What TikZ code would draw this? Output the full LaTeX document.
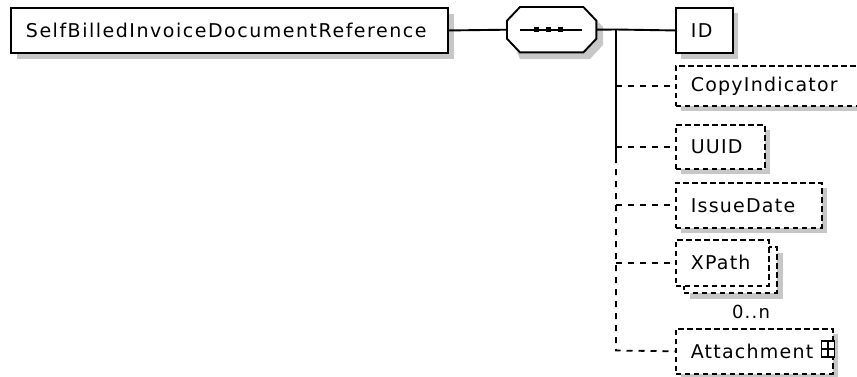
\documentclass[tikz,border=0pt]{standalone}
\usepackage{fontspec}
\setmainfont{DejaVu Sans}[LetterSpace=6.5]
\newfontfamily\mainlabelfont{DejaVu Sans}[LetterSpace=8]
\begin{document}
\begin{tikzpicture}[x=1pt,y=-1pt,
  shadowc/.style={fill=black!22,draw=none},
  elem/.style={draw=black,line width=1.9pt,fill=white,anchor=north west,inner xsep=15pt,inner ysep=0pt,align=left,font=\fontsize{19}{22}\selectfont},
  optelem/.style={elem,line width=1.6pt,dash pattern=on 5.5pt off 3.5pt},
  conn/.style={line width=1.9pt},
  optconn/.style={line width=1.8pt,dash pattern=on 6pt off 6pt}]
\useasboundingbox (0,0) rectangle (857,376);
% shadows
\fill[shadowc] (17,14) rectangle (454,59);
\fill[shadowc] (520,14) -- (590,14) -- (603,27) -- (603,45) -- (590,59) -- (520,59) -- (514,45) -- cycle;
\fill[shadowc] (681,13) rectangle (738,59);
\fill[shadowc] (681,71) rectangle (870,111);
\fill[shadowc] (681,130) rectangle (770,174);
\fill[shadowc] (681,188) rectangle (827,233);
\fill[shadowc] (690,253) rectangle (783,299);
\fill[shadowc] (681,334) rectangle (838,380);
% main element
\node[elem,text width=407pt,minimum height=45pt,font=\mainlabelfont\fontsize{19}{22}\selectfont] (main) at (10,7) {SelfBilledInvoiceDocumentReference};
% sequence compositor
\node[draw=none,minimum width=89pt,minimum height=45pt,anchor=north west,inner sep=0pt] (seq) at (507,7) {};
\draw[line width=1.9pt,fill=white] ([xshift=13pt]seq.north west) -- ([xshift=-13pt]seq.north east) -- ([yshift=9pt]seq.east) -- ([yshift=-9pt]seq.east) -- ([xshift=-13pt]seq.south east) -- ([xshift=13pt]seq.south west) -- ([yshift=-9pt]seq.west) -- ([yshift=9pt]seq.west) -- cycle;
\draw[line width=1.9pt] ([xshift=13pt]seq.west) -- ([xshift=-14pt]seq.east);
\fill ([xshift=-15pt]seq.center) ++(-2.5,-2.5) rectangle ++(5,5);
\fill ([xshift=-3pt]seq.center) ++(-2.5,-2.5) rectangle ++(5,5);
\fill ([xshift=9pt]seq.center) ++(-2.5,-2.5) rectangle ++(5,5);
% children
\node[elem,text width=27pt,minimum height=45pt] (id) at (675,7) {ID};
\node[optelem,text width=157pt,minimum height=40pt] (ci) at (675,65) {CopyIndicator};
\node[optelem,text width=59pt,minimum height=44pt] (uuid) at (675,124) {UUID};
\node[optelem,text width=116pt,minimum height=45pt] (idate) at (675,182) {IssueDate};
\node[optelem,text width=63pt,minimum height=46pt] (xpb) at (683,246) {};
\node[optelem,text width=63pt,minimum height=46pt] (xp) at (675,239) {XPath};
\node[font=\fontsize{18}{21}\selectfont,inner sep=0pt] (card) at (751,312) {0..n};
\node[optelem,text width=127pt,minimum height=45pt] (att) at (675,328) {Attachment};
\node[draw=black,line width=1.5pt,fill=white,minimum width=13pt,minimum height=16pt,inner sep=0pt] (plus) at (828,349) {};
\draw[line width=1.5pt] (plus.north) -- (plus.south) (plus.west) -- (plus.east);
% connectors
\coordinate (tj) at (616,29.5);
\coordinate (tm) at (616,157);
\coordinate (tb) at (616,350.5);
\draw[conn] (main.east) -- (seq.west);
\draw[conn] (seq.east) -- (tj) -- (id.west);
\draw[conn] (tj) -- (tm);
\draw[optconn] (tm) -- (tb) -- (att.west);
\draw[optconn] (ci.west -| tj) -- (ci.west);
\draw[optconn] (uuid.west -| tj) -- (uuid.west);
\draw[optconn] (idate.west -| tj) -- (idate.west);
\draw[optconn] (xp.west -| tj) -- (xp.west);
\end{tikzpicture}
\end{document}
